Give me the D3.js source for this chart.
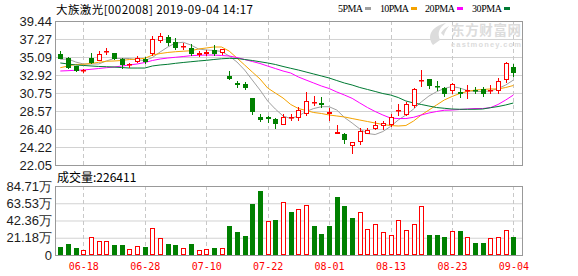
<!DOCTYPE html>
<html>
<head>
<meta charset="utf-8">
<script src="https://cdn.jsdelivr.net/npm/d3@7"></script>
<style>
body{margin:0;background:#fff;}
svg{display:block;}
</style>
</head>
<body>
<svg id="chart" width="578" height="276"></svg>
<script>
var dates = ["06-13","06-14","06-17","06-18","06-19","06-20","06-21","06-24","06-25","06-26",
	"06-27","06-28","07-01","07-02","07-03","07-04","07-05","07-08","07-09","07-10",
	"07-11","07-12","07-15","07-16","07-17","07-18","07-19","07-22","07-23","07-24",
	"07-25","07-26","07-29","07-30","07-31","08-01","08-02","08-05","08-06","08-07",
	"08-08","08-09","08-12","08-13","08-14","08-15","08-16","08-19","08-20","08-21",
	"08-22","08-23","08-26","08-27","08-28","08-29","08-30","09-02","09-03","09-04"];

var openPrice = [35.42,35.00,33.97,33.47,34.99,34.77,35.80,35.57,34.85,34.22,
	34.60,34.85,35.54,37.11,37.47,36.94,36.40,36.14,35.50,35.60,
	35.94,35.66,32.83,31.90,31.83,30.10,27.80,27.85,27.60,27.04,
	27.80,27.80,28.37,29.62,29.50,28.30,25.95,25.80,24.46,24.98,
	25.95,26.48,26.84,26.96,28.65,28.20,29.30,32.28,32.40,31.65,
	31.30,31.10,30.85,31.05,31.15,31.20,31.08,31.10,32.40,33.92];
var highPrice = [35.85,35.10,34.05,33.62,35.60,35.82,36.20,35.62,35.00,34.40,
	35.20,35.10,37.63,37.95,37.70,37.35,36.75,36.66,35.80,35.95,
	36.60,36.10,33.40,32.20,32.10,30.20,28.20,28.00,27.70,28.20,
	28.20,29.10,30.83,30.40,30.30,28.90,26.90,25.95,24.86,26.55,
	26.55,27.36,27.36,28.20,29.40,29.60,31.30,33.50,32.45,32.20,
	31.50,32.00,31.30,31.70,31.50,31.45,31.70,32.50,34.50,34.20];
var lowPrice = [34.95,33.80,33.40,33.30,34.40,34.69,35.50,34.90,33.80,33.90,
	34.45,34.40,35.30,36.94,36.60,36.10,36.00,35.33,35.23,35.30,
	35.33,35.50,32.40,31.50,31.20,28.20,27.40,27.30,26.55,27.00,
	27.50,27.50,28.10,29.30,29.00,27.50,25.90,24.67,23.53,24.59,
	25.95,26.37,26.36,26.70,28.10,28.10,29.10,31.60,31.40,31.10,
	30.40,30.70,30.30,30.20,30.70,30.40,30.70,30.70,32.10,32.80];
var closePrice = [35.00,33.90,33.49,33.50,34.50,35.42,35.87,35.01,34.25,34.28,
	34.93,34.60,37.23,37.64,36.87,36.33,36.45,35.54,35.56,35.66,
	35.54,36.06,32.52,31.80,31.50,28.57,27.65,27.72,27.10,27.88,
	27.85,28.70,29.72,29.68,29.40,28.46,26.00,25.15,24.86,26.15,
	26.28,26.88,27.16,27.81,28.70,29.40,31.20,32.32,31.70,31.60,
	30.70,31.80,30.80,31.12,31.08,30.70,31.12,32.23,34.40,33.24];

// 成交量，单位：万
var volume = [10.2,13.5,9.0,6.1,21.7,17.2,17.2,12.3,12.3,7.4,
	11.0,9.4,33.1,20.5,13.5,12.3,8.6,13.5,6.1,7.4,
	8.6,8.6,35.6,28.2,23.3,62.6,78.6,41.7,43.0,65.1,
	53.2,56.1,61.0,35.6,25.8,35.6,70.8,60.2,45.4,52.8,
	31.5,37.7,27.9,24.2,42.6,30.3,37.7,59.8,24.2,24.2,
	21.7,29.1,29.5,22.5,14.3,14.3,20.5,21.7,30.3,22.6411];

var ma5 = [34.81,34.85,34.49,34.25,34.25,34.25,34.61,34.91,34.91,34.91,
	34.73,34.67,35.03,35.70,36.30,36.78,36.87,36.54,36.06,35.94,
	35.88,35.76,35.21,34.49,33.52,32.31,31.11,29.78,28.81,27.97,
	27.66,27.97,28.51,28.87,29.09,29.09,28.69,27.79,27.12,26.40,
	25.85,25.73,26.09,26.70,27.48,28.09,28.81,29.66,30.38,30.90,
	31.29,31.53,31.35,31.05,30.93,30.93,30.99,31.29,31.71,32.31];
var ma10 = [33.80,34.00,34.19,34.21,34.31,34.45,34.58,34.61,34.67,34.79,
	34.85,34.93,35.33,35.51,35.64,35.73,35.79,35.85,36.06,36.18,
	36.30,36.30,35.80,34.97,34.13,33.28,32.44,31.35,30.74,30.14,
	29.36,28.87,28.63,28.39,28.27,28.09,27.97,27.85,27.66,27.48,
	27.30,27.12,26.94,26.82,26.76,26.82,27.36,28.09,28.69,29.30,
	29.90,30.32,30.68,30.93,31.10,31.17,31.23,31.23,31.41,31.65];
var ma20 = [33.40,33.44,33.49,33.52,33.61,33.70,33.80,33.88,34.00,34.13,
	34.25,34.43,34.67,34.85,34.97,35.06,35.15,35.25,35.30,35.33,
	35.33,35.27,35.21,35.03,34.79,34.55,34.31,34.00,33.70,33.40,
	33.16,32.68,32.31,31.95,31.59,31.29,30.87,30.50,30.10,29.54,
	28.99,28.51,28.09,27.72,27.66,27.66,27.81,28.09,28.33,28.51,
	28.66,28.69,28.75,28.81,28.87,28.87,28.97,29.36,29.90,30.50];
var ma30 = [34.37,34.25,34.13,34.07,34.01,33.95,33.92,33.88,33.82,33.76,
	33.76,33.76,34.01,34.13,34.21,34.33,34.43,34.52,34.61,34.69,
	34.79,34.88,34.93,34.91,34.79,34.67,34.52,34.37,34.19,33.95,
	33.73,33.52,33.28,33.04,32.80,32.56,32.25,31.95,31.71,31.41,
	31.17,30.93,30.68,30.50,30.20,29.78,29.54,29.36,29.17,28.99,
	28.90,28.81,28.78,28.78,28.78,28.81,28.97,29.11,29.30,29.54];

var priceTicks = [22.05,24.22,26.40,28.57,30.75,32.92,35.09,37.27,39.44];
var volumeTicks = [0,21.18,42.36,63.53,84.71];
var dateTicks = ["06-18","06-28","07-10","07-22","08-01","08-13","08-23","09-04"];
var maNames = ["5PMA","10PMA","20PMA","30PMA"];

var title = "大族激光[002008] 2019-09-04 14:17";
var volumeTitle = "成交量:226411";

// layout
var left = 55, right = 522;
var priceTop = 21, priceBottom = 165;
var volTop = 186, volBottom = 255;
var upColor = "#ff0000", downColor = "#008000";
var maColors = ["#a0a0a0","#f5a300","#ff00ff","#007a33"];
var legendX = [338, 380, 425, 472];
var legendW = [25, 29, 30, 30];
var numFont = "'Liberation Sans', Arial, sans-serif";
var cjkFont = "'Noto Sans CJK SC', 'Liberation Sans', sans-serif";

var svg = d3.select("#chart");

var x = d3.scalePoint().domain(dates).range([60.3, 513.4]);
var y = d3.scaleLinear().domain([22.05, 39.44]).range([priceBottom, priceTop]);
var yv = d3.scaleLinear().domain([0, 84.71]).range([volBottom, volTop]);

var bars = dates.map(function(d, i){
	var prev = i > 0 ? closePrice[i-1] : openPrice[i];
	return {
		date: d,
		o: openPrice[i], h: highPrice[i], l: lowPrice[i], c: closePrice[i],
		v: volume[i],
		up: closePrice[i] > openPrice[i] || (closePrice[i] == openPrice[i] && closePrice[i] >= prev),
		volUp: closePrice[i] >= prev
	};
});

function px(d){ return Math.round(x(d)); }

// horizontal grid
function grid(scale, ticks){
	var g = svg.append("g")
		.attr("transform", "translate(" + left + ",0)")
		.call(d3.axisLeft(scale).tickValues(ticks).tickSize(-(right - left)).tickFormat(""));
	g.select(".domain").remove();
	g.selectAll(".tick line").attr("stroke", "#d2d2d2");
}
grid(y, priceTicks);
grid(yv, volumeTicks);

// vertical dashed lines
function vgrid(top, bottom){
	svg.append("g").selectAll("line")
		.data(dateTicks)
		.join("line")
		.attr("x1", function(d){ return px(d) + 0.5; })
		.attr("x2", function(d){ return px(d) + 0.5; })
		.attr("y1", top)
		.attr("y2", bottom)
		.attr("stroke", "#c8c8c8")
		.attr("stroke-dasharray", "4,3");
}
vgrid(priceTop, priceBottom);
vgrid(volTop, volBottom);

// frames
svg.append("rect").attr("x", left + 0.5).attr("y", priceTop + 0.5)
	.attr("width", right - left).attr("height", priceBottom - priceTop)
	.attr("fill", "none").attr("stroke", "#999");
svg.append("rect").attr("x", left + 0.5).attr("y", volTop + 0.5)
	.attr("width", right - left).attr("height", volBottom - volTop)
	.attr("fill", "none").attr("stroke", "#999");

// watermark
var wm = svg.append("g").attr("fill", "#dcdcdc");
wm.append("path")
	.attr("d", "M433,45 C427,37 430,27 446,23 C439,28 437,33 440,40 Z M441,33 C444,28 449,26 449,26 C446,30 444,33 444,36 Z");
wm.append("text").attr("x", 521).attr("y", 35).attr("text-anchor", "end")
	.attr("font-family", cjkFont).attr("font-size", 13.5).attr("font-weight", "bold")
	.attr("textLength", 70).text("东方财富网");
wm.append("text").attr("x", 521).attr("y", 47).attr("text-anchor", "end")
	.attr("font-family", numFont).attr("font-size", 7.5).attr("font-weight", "bold")
	.attr("textLength", 70).text("eastmoney.com");

// moving averages
var maLine = d3.line()
	.x(function(d, i){ return x(dates[i]); })
	.y(function(d){ return y(d); });
[ma5, ma10, ma20, ma30].forEach(function(series, k){
	svg.append("path")
		.datum(series)
		.attr("d", maLine)
		.attr("fill", "none")
		.attr("stroke", maColors[k])
		.attr("stroke-width", 1);
});

// candles
var candle = svg.append("g").selectAll("g")
	.data(bars)
	.join("g");
candle.append("line")
	.attr("x1", function(d){ return px(d.date) + 0.5; })
	.attr("x2", function(d){ return px(d.date) + 0.5; })
	.attr("y1", function(d){ return Math.round(y(d.h)); })
	.attr("y2", function(d){ return Math.round(y(d.l)) + 1; })
	.attr("stroke", function(d){ return d.up ? upColor : downColor; });
candle.append("rect")
	.attr("x", function(d){ return px(d.date) - 1.5; })
	.attr("width", 4)
	.attr("y", function(d){ return Math.round(y(Math.max(d.o, d.c))) + 0.5; })
	.attr("height", function(d){
		return Math.max(Math.round(y(Math.min(d.o, d.c))) - Math.round(y(Math.max(d.o, d.c))), 0.5);
	})
	.attr("fill", function(d){ return d.up ? "#fff" : downColor; })
	.attr("stroke", function(d){ return d.up ? upColor : downColor; });

// volume bars
svg.append("g").selectAll("rect")
	.data(bars)
	.join("rect")
	.attr("x", function(d){ return px(d.date) - 1.5; })
	.attr("width", 4)
	.attr("y", function(d){ return Math.round(yv(d.v)) + 0.5; })
	.attr("height", function(d){ return volBottom - Math.round(yv(d.v)) - 1; })
	.attr("fill", function(d){ return d.volUp ? "#fff" : downColor; })
	.attr("stroke", function(d){ return d.volUp ? upColor : downColor; });

// y labels
function labels(scale, ticks, fmt){
	var g = svg.append("g")
		.attr("transform", "translate(" + left + ",0)")
		.call(d3.axisLeft(scale).tickValues(ticks).tickSize(0).tickPadding(3).tickFormat(fmt));
	g.select(".domain").remove();
	g.selectAll("text")
		.attr("font-family", numFont)
		.attr("font-size", 13)
		.attr("fill", "#1c1c1c");
}
labels(y, priceTicks, d3.format(".2f"));
labels(yv, volumeTicks, function(d){ return d === 0 ? "0" : d3.format(".2f")(d) + "万"; });

// x labels
var xa = svg.append("g")
	.attr("transform", "translate(0," + volBottom + ")")
	.call(d3.axisBottom(x).tickValues(dateTicks).tickSize(0).tickPadding(8));
xa.select(".domain").remove();
xa.selectAll("text")
	.attr("font-family", "'DejaVu Sans Mono', monospace")
	.attr("font-size", 10)
	.attr("fill", upColor);

// title
svg.append("text")
	.attr("x", 56).attr("y", 13.5)
	.attr("font-family", cjkFont).attr("font-size", 11.5)
	.attr("fill", "#000")
	.attr("textLength", 197)
	.text(title);

svg.append("text")
	.attr("x", 57).attr("y", 182)
	.attr("font-family", cjkFont).attr("font-size", 12)
	.attr("fill", "#000")
	.text(volumeTitle);

// legend
var legend = svg.append("g");
maNames.forEach(function(name, k){
	legend.append("text")
		.attr("x", legendX[k]).attr("y", 12)
		.attr("font-family", "'Liberation Serif', serif")
		.attr("font-size", 10)
		.attr("fill", "#000")
		.attr("textLength", legendW[k])
		.text(name);
	legend.append("rect")
		.attr("x", legendX[k] + legendW[k] + 2).attr("y", 7)
		.attr("width", 6).attr("height", 3)
		.attr("fill", maColors[k]);
});
</script>
</body>
</html>
